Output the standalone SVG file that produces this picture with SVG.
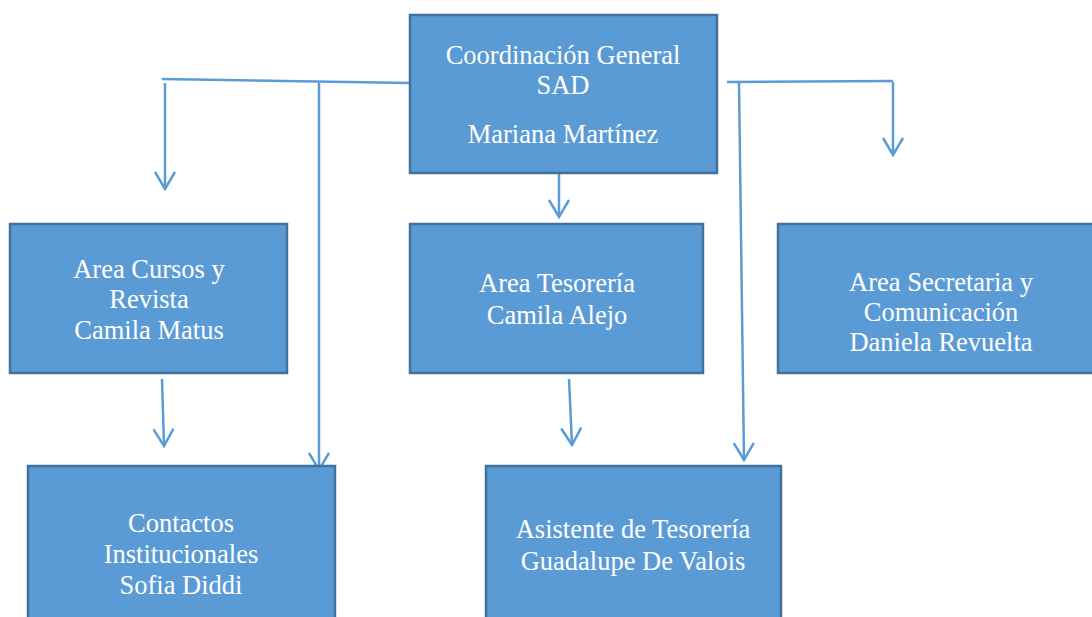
<svg xmlns="http://www.w3.org/2000/svg" width="1092" height="617" viewBox="0 0 1092 617">
<defs>
<style>
.box{fill:#5B9BD5;stroke:#41719C;stroke-width:2.5}
.t{font-family:"Liberation Serif","Times New Roman",serif;font-size:26.5px;fill:#fff;text-anchor:middle}
.ln{stroke:#5B9BD5;stroke-width:2.5;fill:none}
</style>
<marker id="ah" viewBox="0 0 20 22" refX="18" refY="11" markerWidth="20" markerHeight="22" markerUnits="userSpaceOnUse" orient="auto">
<path d="M1,1 L18,11 L1,21" fill="none" stroke="#5B9BD5" stroke-width="2.5"/>
</marker>
</defs>
<rect width="1092" height="617" fill="#fff"/>
<g id="connectors">
<path class="ln" d="M162,79 L410,83"/>
<path class="ln" d="M727,82 L893,81"/>
<path class="ln" d="M319,83 L319,470" marker-end="url(#ah)"/>
<path class="ln" d="M165,83 L165,189" marker-end="url(#ah)"/>
<path class="ln" d="M739,83 L744,460" marker-end="url(#ah)"/>
<path class="ln" d="M893,82 L893,155" marker-end="url(#ah)"/>
<path class="ln" d="M559,173 L559,217" marker-end="url(#ah)"/>
<path class="ln" d="M162,379 L164,446" marker-end="url(#ah)"/>
<path class="ln" d="M569,379 L572,445" marker-end="url(#ah)"/>
</g>
<g id="coord">
<rect class="box" x="410" y="15" width="307" height="158"/>
<text class="t" x="563" y="64">Coordinación General</text>
<text class="t" x="563" y="94">SAD</text>
<text class="t" x="563" y="143">Mariana Martínez</text>
</g>
<g id="cursos">
<rect class="box" x="10" y="224" width="277" height="149"/>
<text class="t" x="149" y="278">Area Cursos y</text>
<text class="t" x="149" y="308">Revista</text>
<text class="t" x="149" y="339">Camila Matus</text>
</g>
<g id="tesoreria">
<rect class="box" x="410" y="224" width="293" height="149"/>
<text class="t" x="557" y="292">Area Tesorería</text>
<text class="t" x="557" y="324">Camila Alejo</text>
</g>
<g id="secretaria">
<rect class="box" x="778" y="224" width="320" height="149"/>
<text class="t" x="941" y="291">Area Secretaria y</text>
<text class="t" x="941" y="321">Comunicación</text>
<text class="t" x="941" y="351">Daniela Revuelta</text>
</g>
<g id="contactos">
<rect class="box" x="28" y="466" width="307" height="160"/>
<text class="t" x="181" y="532">Contactos</text>
<text class="t" x="181" y="563">Institucionales</text>
<text class="t" x="181" y="594">Sofia Diddi</text>
</g>
<g id="asistente">
<rect class="box" x="486" y="466" width="295" height="160"/>
<text class="t" x="633" y="538">Asistente de Tesorería</text>
<text class="t" x="633" y="570">Guadalupe De Valois</text>
</g>
</svg>
